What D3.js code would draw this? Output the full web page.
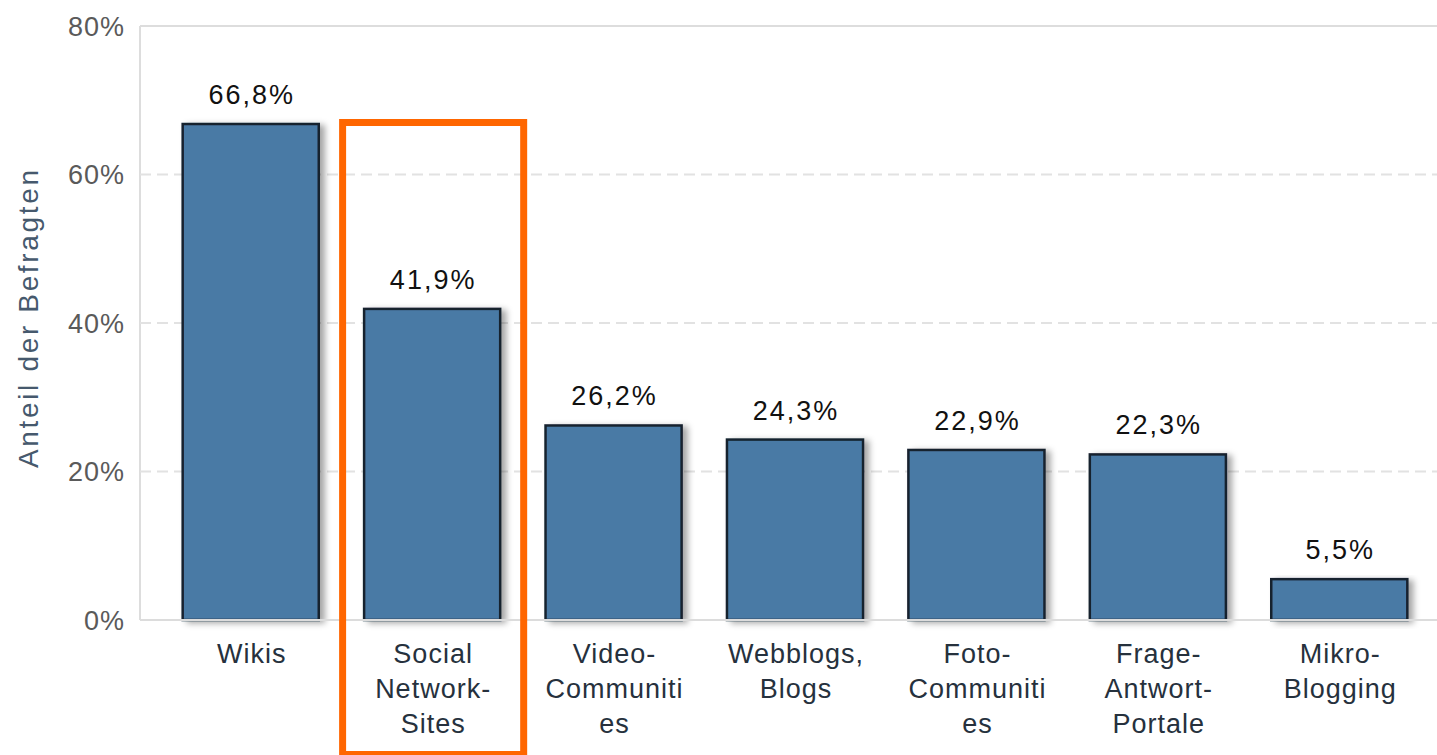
<!DOCTYPE html>
<html>
<head>
<meta charset="utf-8">
<script src="https://cdn.jsdelivr.net/npm/d3@7"></script>
<style>
  html, body { margin: 0; padding: 0; background: #fff; }
  svg { display: block; }
  text { font-family: "Liberation Sans", Arial, sans-serif; }
</style>
</head>
<body>
<svg id="chart" width="1437" height="755"></svg>
<script>
const categories = [
  ["Wikis"],
  ["Social", "Network-", "Sites"],
  ["Video-", "Communiti", "es"],
  ["Webblogs,", "Blogs"],
  ["Foto-", "Communiti", "es"],
  ["Frage-", "Antwort-", "Portale"],
  ["Mikro-", "Blogging"]
];
const values = [66.8, 41.9, 26.2, 24.3, 22.9, 22.3, 5.5];
const valueLabels = ["66,8%", "41,9%", "26,2%", "24,3%", "22,9%", "22,3%", "5,5%"];
const yTicks = [0, 20, 40, 60, 80];
const yTitle = "Anteil der Befragten";
const highlightIndex = 1;

const svg = d3.select("#chart");
const plotLeft = 140, plotRight = 1437, plotTop = 26, plotBottom = 620;

const keys = categories.map((c, i) => i);
const x = d3.scaleBand().domain(keys).range([160, 1430]).paddingInner(0.25).paddingOuter(0.125);
const y = d3.scaleLinear().domain([0, 80]).range([plotBottom, plotTop]);

const defs = svg.append("defs");
const f = defs.append("filter").attr("id", "shadow").attr("x", "-10%").attr("y", "-10%").attr("width", "130%").attr("height", "130%");
f.append("feDropShadow").attr("dx", 5).attr("dy", 2).attr("stdDeviation", 3)
  .attr("flood-color", "#000").attr("flood-opacity", 0.35);

// plot frame lines
svg.append("line").attr("x1", plotLeft).attr("x2", plotLeft).attr("y1", plotTop).attr("y2", plotBottom)
  .attr("stroke", "#dddddd").attr("stroke-width", 2);
svg.append("line").attr("x1", plotLeft).attr("x2", plotRight).attr("y1", y(80)).attr("y2", y(80))
  .attr("stroke", "#dddddd").attr("stroke-width", 2);

// gridlines
svg.append("g").selectAll("line").data(yTicks.filter(t => t > 0 && t < 80)).join("line")
  .attr("x1", plotLeft).attr("x2", plotRight)
  .attr("y1", d => y(d)).attr("y2", d => y(d))
  .attr("stroke", "#e2e2e2").attr("stroke-width", 2).attr("stroke-dasharray", "11,6");

// y axis labels
const yAxis = d3.axisLeft(y).tickValues(yTicks).tickFormat(d => d + "%").tickSize(0).tickPadding(15);
const ya = svg.append("g").attr("transform", `translate(${plotLeft},0)`).call(yAxis);
ya.select(".domain").remove();
ya.selectAll("text").attr("font-size", 27).attr("fill", "#5a5a5a").attr("letter-spacing", 1)
  .attr("font-family", "Liberation Sans, Arial, sans-serif").attr("dy", "0.35em");

// y title
svg.append("text").attr("transform", `translate(38,319) rotate(-90)`)
  .attr("text-anchor", "middle").attr("font-size", 28).attr("fill", "#46596d")
  .attr("textLength", 298).attr("lengthAdjust", "spacing")
  .text(yTitle);

// bars
svg.append("g").selectAll("rect").data(values).join("rect")
  .attr("x", (d, i) => x(i)).attr("width", x.bandwidth())
  .attr("y", d => y(d)).attr("height", d => y(0) - y(d))
  .attr("fill", "#4a7aa5").attr("stroke", "#17222f").attr("stroke-width", 2.5)
  .attr("filter", "url(#shadow)");

// baseline
svg.append("line").attr("x1", plotLeft).attr("x2", plotRight).attr("y1", plotBottom).attr("y2", plotBottom)
  .attr("stroke", "#dcdcdc").attr("stroke-width", 2);

// value labels
svg.append("g").selectAll("text").data(values).join("text")
  .attr("x", (d, i) => x(i) + x.bandwidth() / 2 + 1)
  .attr("y", d => y(d) - 20)
  .attr("text-anchor", "middle").attr("font-size", 27).attr("fill", "#111")
  .attr("letter-spacing", 2)
  .text((d, i) => valueLabels[i]);

// category labels
const cg = svg.append("g").selectAll("text").data(categories).join("text")
  .attr("text-anchor", "middle").attr("font-size", 27).attr("fill", "#26313d")
  .attr("letter-spacing", 1);
cg.each(function(lines, i) {
  const t = d3.select(this);
  lines.forEach((ln, k) => {
    t.append("tspan").attr("x", x(i) + x.bandwidth() / 2 + 1).attr("y", 663 + k * 35).text(ln);
  });
});

// highlight box
svg.append("rect")
  .attr("x", x(highlightIndex) - 21.5).attr("y", 122.5)
  .attr("width", x.bandwidth() + 45).attr("height", 632)
  .attr("fill", "none").attr("stroke", "#ff6600").attr("stroke-width", 7);
</script>
</body>
</html>
